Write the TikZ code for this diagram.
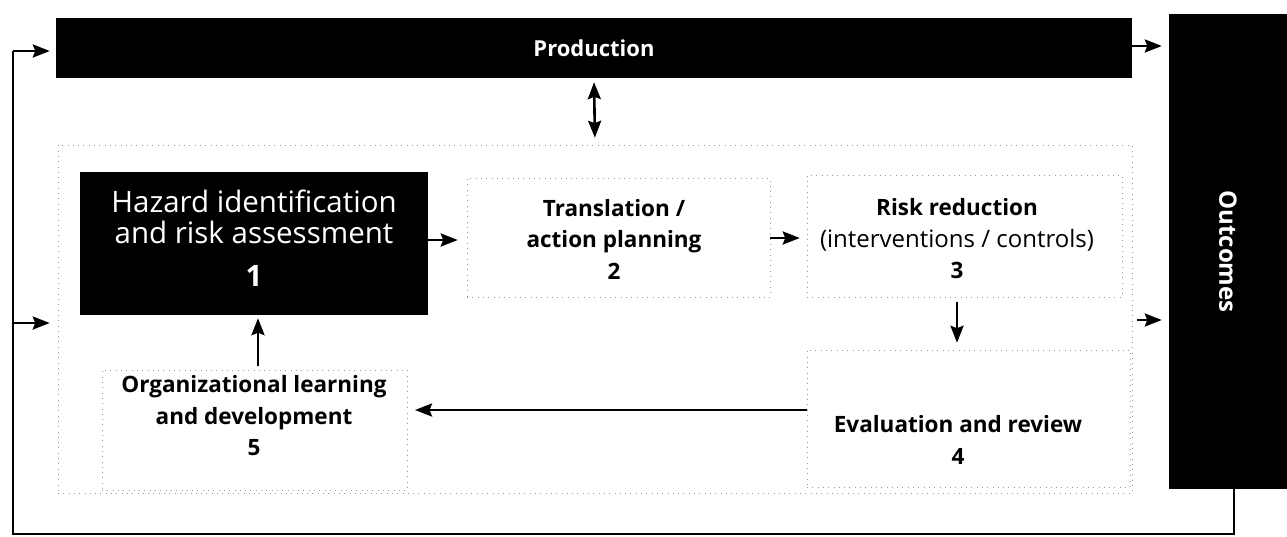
\documentclass[tikz,border=0pt]{standalone}
\usepackage{fontspec}
\setmainfont{Open Sans}
\usetikzlibrary{arrows.meta,calc}
\begin{document}
\begin{tikzpicture}[x=1pt,y=-1pt,
  blackbox/.style={fill=black,draw=none,inner sep=0pt,anchor=center,text=white},
  dotbox/.style={draw=black!40,line width=0.5pt,dash pattern=on 0.8pt off 4.5pt,inner sep=0pt,anchor=center},
  lbl/.style={align=center,inner sep=0pt,font=\fontsize{22.5}{31.5}\selectfont\bfseries},
  tip/.tip={Stealth[length=17pt,width=13pt,inset=2.5pt]},
  arr/.style={-tip,line width=2.6pt},
  dblarr/.style={tip-tip,line width=2.6pt},
  line/.style={line width=2.6pt}]
\useasboundingbox (0,0) rectangle (1287,536);

% main boxes
\node[blackbox,minimum width=1076pt,minimum height=60pt,font=\fontsize{22}{26}\selectfont\bfseries] (prod) at (594,48) {Production};
\node[blackbox,minimum width=118pt,minimum height=475pt] (out) at (1228,251.5) {};
\node[text=white,rotate=-90,font=\fontsize{24}{28}\selectfont\bfseries,inner sep=0pt] (outtxt) at (out.center) {Outcomes};
\node[dotbox,minimum width=1074pt,minimum height=348pt] (region) at (595,319) {};

% step 1
\node[blackbox,minimum width=348pt,minimum height=143pt] (b1) at (254,243.5) {};
\node[text=white,align=center,inner sep=0pt,font=\fontsize{29.5}{31}\selectfont] (t1) at (254,238) {Hazard identification\\and risk assessment\\[12pt]\textbf{1}};

% frames
\node[dotbox,minimum width=303pt,minimum height=119pt] (f2) at (618.5,237.5) {};
\node[dotbox,minimum width=315pt,minimum height=122pt] (f3) at (964.5,236) {};
\node[dotbox,minimum width=323pt,minimum height=137pt] (f4) at (968.5,418.5) {};
\node[dotbox,minimum width=305pt,minimum height=120pt] (f5) at (254.5,430) {};

% texts
\node[lbl] (t2) at (614,239) {Translation /\\action planning\\2};
\node[lbl] (t3) at (957,239) {Risk reduction\\\fontsize{24}{31.5}\selectfont\mdseries(interventions / controls)\\3};
\node[lbl] (t4) at (958,440) {Evaluation and review\\4};
\node[lbl] (t5) at (254,416) {Organizational learning\\and development\\5};

% coordinates
\coordinate (loopR) at (1234,534);
\coordinate (loopL) at (13,534);
\coordinate (topL) at (13,51);
\coordinate (midL) at (13,323);
\coordinate (a45) at (807,410);
\coordinate (a45e) at (415,410);
\coordinate (rOut) at (1137,320);

% connectors
\draw[dblarr,shorten <=4pt,shorten >=7pt] (prod.south) -- (region.north);
\draw[arr,shorten >=7pt] (prod.east |- 0,46) -- (out.west |- 0,46);
\draw[arr,shorten >=7pt] (rOut) -- (out.west |- rOut);
\draw[arr,shorten >=9pt] (b1.east |- 0,240) -- (f2.west |- 0,240);
\draw[arr,shorten >=7pt] (f2.east |- 0,238) -- (f3.west |- 0,238);
\draw[arr,shorten <=5pt,shorten >=7pt] (f3.south -| 957,0) -- (f4.north -| 957,0);
\draw[arr] (a45) -- (a45e);
\draw[arr,shorten <=4pt,shorten >=3pt] (f5.north -| 258,0) -- (b1.south -| 258,0);
\draw[line] (out.south -| loopR) -- (loopR) -- (loopL) -- (topL);
\draw[arr,shorten >=6pt] (topL) -- (prod.west |- topL);
\draw[arr,shorten >=8pt] (midL) -- (region.west |- midL);
\end{tikzpicture}
\end{document}
